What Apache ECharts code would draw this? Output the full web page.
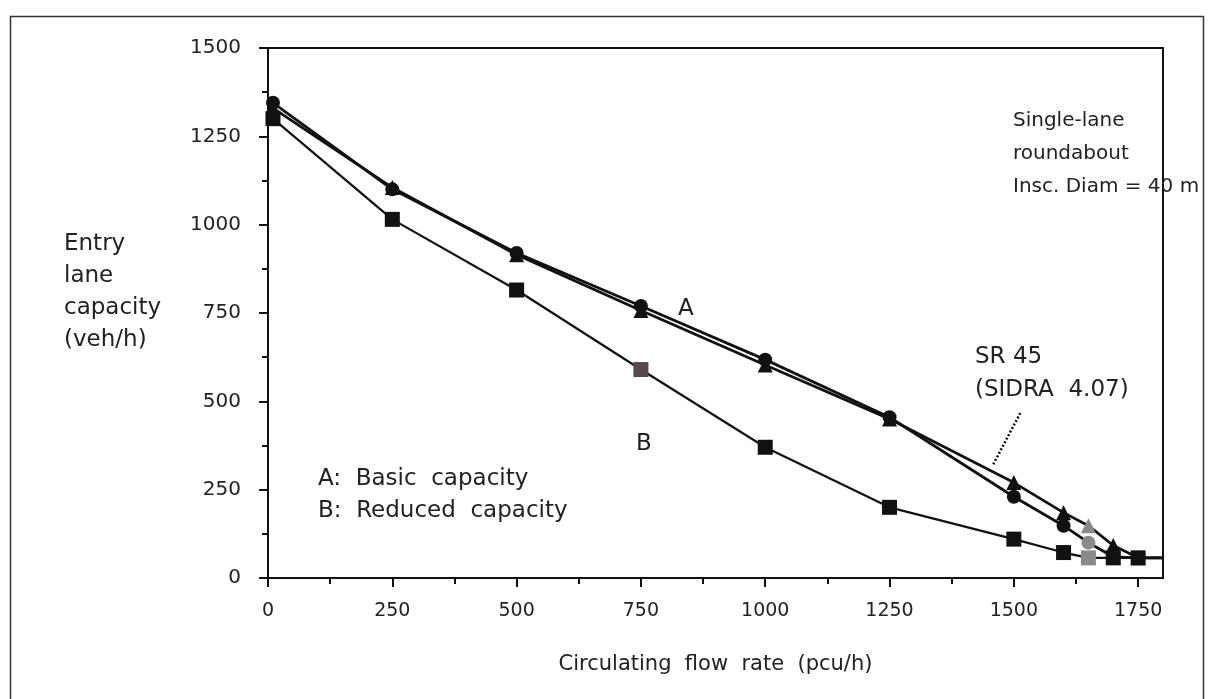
<!DOCTYPE html>
<html>
<head>
<meta charset="utf-8">
<script src="https://cdn.jsdelivr.net/npm/echarts@6/dist/echarts.min.js"></script>
<style>html,body{margin:0;padding:0;background:#fff}#c{width:1210px;height:699px}</style>
</head>
<body>
<div id="c"></div>
<script>
// Circulating flow rate (pcu/h)
const flowA = [10, 250, 500, 750, 1000, 1250, 1500, 1600, 1650, 1700, 1750, 1800];
const capA  = [1345, 1100, 920, 770, 618, 455, 230, 148, 100, 60, 57, 57];      // A: basic capacity (circles)
const flowS = [10, 250, 500, 750, 1000, 1250, 1500, 1600, 1650, 1700, 1750, 1800];
const capS  = [1330, 1105, 915, 757, 603, 450, 270, 185, 148, 92, 57, 57];      // SR 45 (SIDRA 4.07) (triangles)
const flowB = [10, 250, 500, 750, 1000, 1250, 1500, 1600, 1650, 1700, 1750, 1800];
const capB  = [1300, 1015, 815, 590, 370, 200, 110, 72, 57, 57, 57, 57];        // B: reduced capacity (squares)
const xMajorTicks = [0, 250, 500, 750, 1000, 1250, 1500, 1750];
const xMinorTicks = [125, 375, 625, 875, 1125, 1375, 1625];
const pointerLine = [[1513, 467], [1458, 320]];

const FONT = 'DejaVu Sans';
const zip = (xs, ys) => xs.map((x, i) => [x, ys[i]]);
const markerColor = (base) => (p) => (p.data[0] === 1650 ? '#8a8a8a' : base);
const symSize = (s) => (v) => (v[0] >= 1800 ? 0 : s);
const plain = (v) => String(v);

const chart = echarts.init(document.getElementById('c'), null, {renderer: 'canvas'});
chart.setOption({
  animation: false,
  backgroundColor: '#fff',
  grid: {left: 268, right: 47, top: 48, bottom: 121, show: true, borderColor: '#111', borderWidth: 2, backgroundColor: 'transparent'},
  xAxis: [{
    type: 'value', min: 0, max: 1800, interval: 250,
    axisLine: {show: true, onZero: false, lineStyle: {color: '#111', width: 2}},
    axisTick: {show: true, inside: false, length: 9, lineStyle: {color: '#111', width: 2}, customValues: xMajorTicks},
    axisLabel: {show: true, color: '#222', fontFamily: FONT, fontSize: 19, margin: 24, formatter: plain, customValues: xMajorTicks},
    splitLine: {show: false},
    name: 'Circulating  flow  rate  (pcu/h)', nameLocation: 'middle', nameGap: 76,
    nameTextStyle: {color: '#222', fontFamily: FONT, fontSize: 21}
  }, {
    type: 'value', min: 0, max: 1800, interval: 125, position: 'bottom',
    axisLine: {show: false},
    axisTick: {show: true, inside: false, length: 6, lineStyle: {color: '#111', width: 2}, customValues: xMinorTicks},
    axisLabel: {show: false},
    splitLine: {show: false}
  }],
  yAxis: {
    type: 'value', min: 0, max: 1500, interval: 250,
    axisLine: {show: true, onZero: false, lineStyle: {color: '#111', width: 2}},
    axisTick: {show: true, inside: false, length: 9, lineStyle: {color: '#111', width: 2}},
    minorTick: {show: true, splitNumber: 2, length: 6, lineStyle: {color: '#111', width: 2}},
    axisLabel: {color: '#222', fontFamily: FONT, fontSize: 20, margin: 27, formatter: plain},
    splitLine: {show: false}, minorSplitLine: {show: false}
  },
  series: [{
    name: 'SR 45', type: 'line', data: zip(flowS, capS),
    symbol: 'triangle', symbolSize: symSize(15),
    lineStyle: {color: '#111', width: 2.8},
    itemStyle: {color: markerColor('#111')},
    z: 3,
    markLine: {
      silent: true, symbol: 'none', label: {show: false},
      lineStyle: {color: '#111', type: [2, 2], width: 2.5},
      data: [[{coord: pointerLine[0]}, {coord: pointerLine[1]}]]
    }
  }, {
    name: 'A', type: 'line', data: zip(flowA, capA),
    symbol: 'circle', symbolSize: symSize(14),
    lineStyle: {color: '#111', width: 2.8},
    itemStyle: {color: markerColor('#111')},
    z: 4
  }, {
    name: 'B', type: 'line', data: zip(flowB, capB),
    symbol: 'rect', symbolSize: symSize(15),
    lineStyle: {color: '#111', width: 2.2},
    itemStyle: {color: (p) => (p.data[0] === 1650 ? '#8a8a8a' : (p.data[0] === 750 ? '#5a4850' : '#111'))},
    z: 5
  }],
  graphic: [
    {type: 'rect', left: 8, top: 14, shape: {width: 1193, height: 700}, style: {fill: 'none', stroke: '#333', lineWidth: 1.5}, silent: true},
    {type: 'text', left: 64, top: 228, style: {text: 'Entry\nlane\ncapacity\n(veh/h)', fill: '#222', font: '23px "DejaVu Sans"', lineHeight: 32}},
    {type: 'text', left: 1013, top: 104, style: {text: 'Single-lane\nroundabout\nInsc. Diam = 40 m', fill: '#222', font: '20px "DejaVu Sans"', lineHeight: 33}},
    {type: 'text', left: 678, top: 298, style: {text: 'A', fill: '#222', font: '23px "DejaVu Sans"'}},
    {type: 'text', left: 636, top: 433, style: {text: 'B', fill: '#222', font: '23px "DejaVu Sans"'}},
    {type: 'text', left: 975, top: 341, style: {text: 'SR 45\n(SIDRA  4.07)', fill: '#222', font: '23px "DejaVu Sans"', lineHeight: 33}},
    {type: 'text', left: 318, top: 463, style: {text: 'A:  Basic  capacity\nB:  Reduced  capacity', fill: '#222', font: '23px "DejaVu Sans"', lineHeight: 32}}
  ]
});
</script>
</body>
</html>
